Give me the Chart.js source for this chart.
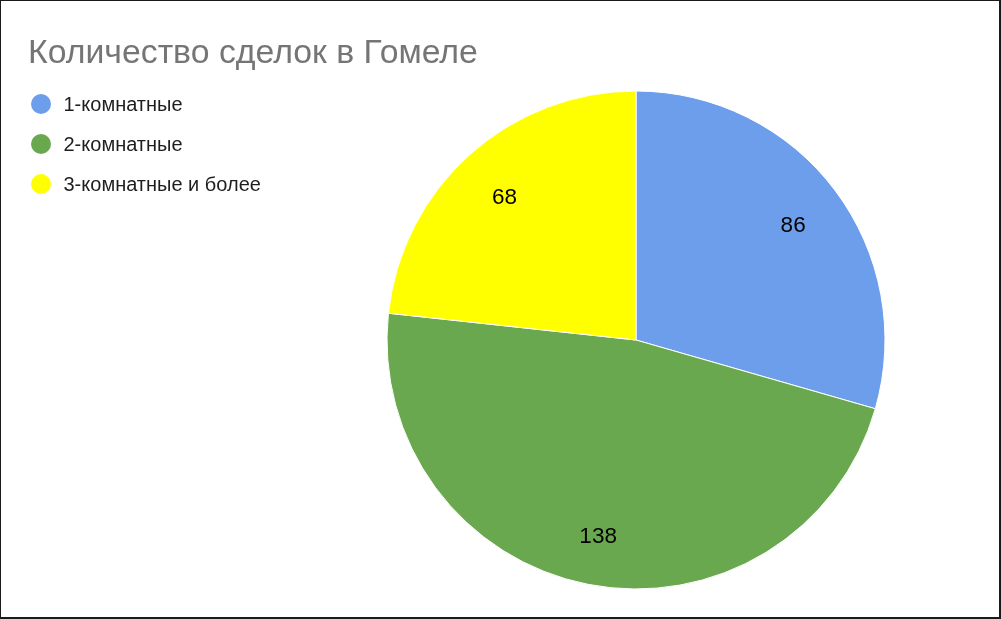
<!DOCTYPE html>
<html>
<head>
<meta charset="utf-8">
<script src="https://cdn.jsdelivr.net/npm/chart.js@4"></script>
<style>
  html,body{margin:0;padding:0;background:#fff}
  #wrap{position:relative;width:1001px;height:619px;overflow:hidden;font-family:Arial,"Liberation Sans",sans-serif}
  #frame{position:absolute;left:0;top:0;width:1001px;height:619px;box-sizing:border-box;border-style:solid;border-color:#1a1a1a;border-width:1px 2px 2px 1px;pointer-events:none}
  #title{position:absolute;left:28px;top:34.2px;font-size:33.8px;line-height:34px;color:#757575;white-space:nowrap}
  #legend{position:absolute;left:31px;top:83.5px}
  .lg-row{display:flex;align-items:center;height:40px}
  .lg-dot{width:20px;height:20px;border-radius:50%;flex-shrink:0}
  .lg-txt{margin-left:12.5px;font-size:20px;color:#1e1e1e;white-space:nowrap;position:relative;top:1px}
  #cv{position:absolute;left:0;top:0}
</style>
</head>
<body>
<div id="wrap">
  <canvas id="cv" width="1001" height="619"></canvas>
  <div id="title">Количество сделок в Гомеле</div>
  <div id="legend"></div>
  <div id="frame"></div>
</div>
<script>
const labels = ["1-комнатные", "2-комнатные", "3-комнатные и более"];
const deals = [86, 138, 68];
const colors = ["#6d9eeb", "#6aa84f", "#ffff00"];

// numbers inside slices, placed along the middle angle
const sliceLabels = {
  id: "sliceLabels",
  afterDatasetsDraw(chart) {
    const ctx = chart.ctx;
    const meta = chart.getDatasetMeta(0);
    const size = 22.5;
    ctx.save();
    ctx.font = size + "px Arial";
    ctx.fillStyle = "#000";
    ctx.textAlign = "center";
    ctx.textBaseline = "alphabetic";
    meta.data.forEach((arc, i) => {
      const p = arc.getProps(["x","y","startAngle","endAngle","outerRadius"], true);
      const mid = (p.startAngle + p.endAngle) / 2;
      const r = p.outerRadius * 0.79;
      const cx = p.x + Math.cos(mid) * r;
      const cy = p.y + Math.sin(mid) * r + 2;
      ctx.fillText(String(deals[i]), cx, cy + size * 0.358);
    });
    ctx.restore();
  }
};

const chart = new Chart(document.getElementById("cv").getContext("2d"), {
  type: "pie",
  data: {
    labels,
    datasets: [{
      data: deals,
      backgroundColor: colors,
      borderColor: "#fff",
      borderWidth: 1,
      hoverOffset: 0
    }]
  },
  options: {
    responsive: false,
    maintainAspectRatio: false,
    animation: false,
    radius: 249,
    layout: { padding: { left: 376, right: 105, top: 80, bottom: 19 } },
    plugins: { legend: { display: false }, title: { display: false }, tooltip: { enabled: false } }
  },
  plugins: [sliceLabels]
});

document.getElementById("legend").innerHTML = labels.map((l, i) =>
  `<div class="lg-row"><div class="lg-dot" style="background:${colors[i]}"></div><div class="lg-txt">${l}</div></div>`
).join("");
</script>
</body>
</html>
